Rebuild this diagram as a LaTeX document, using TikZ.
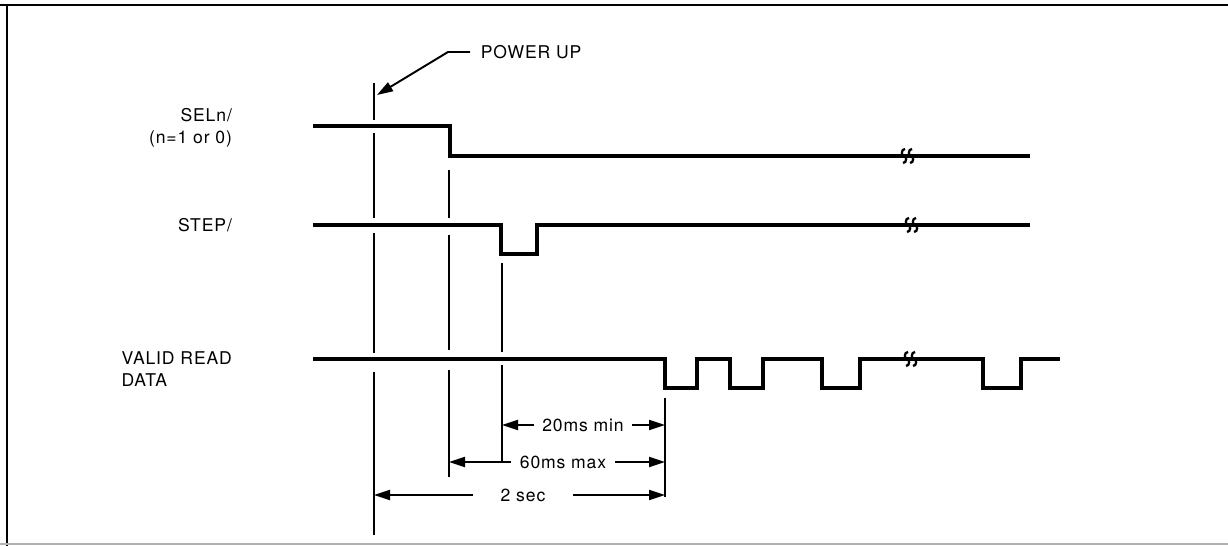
\documentclass[tikz,border=0pt]{standalone}
\usepackage{fontspec}
\setmainfont{TeX Gyre Heros}[LetterSpace=5]
\usetikzlibrary{arrows.meta}

\begin{document}
\begin{tikzpicture}[
  x=0.02cm, y=-0.02cm,
  every node/.style={font=\fontsize{10}{12.5}\selectfont, inner sep=1pt},
  wave/.style={line width=1.8pt, line join=miter},
  marker/.style={line width=1.1pt},
  dimline/.style={line width=1.1pt, -{Triangle[length=3.2mm, width=2mm]}},
  brk/.pic={
    \draw[line width=1.3pt] (1,-7) .. controls (-3,-7) and (-3,0) .. (0,0)
      .. controls (3,0) and (3,7) .. (-1,7);
    \draw[line width=1.3pt] (8,-7) .. controls (4,-7) and (4,0) .. (7,0)
      .. controls (10,0) and (10,7) .. (6,7);
  }
]
  \useasboundingbox (0,0) rectangle (1228,546);
  % frame
  \draw[line width=1.6pt] (0,5) -- (1228,5);
  \draw[line width=1.6pt] (7,5) -- (7,546);
  \draw[gray!60, line width=0.6pt] (0,544) -- (1228,544);

  % signal names
  \node[anchor=east, align=right] (sel) at (234,128) {SELn/\\(n=1 or 0)};
  \node[anchor=east] (step) at (234,225) {STEP/};
  \node[anchor=east, align=left] (vrd) at (234,369) {VALID READ\\DATA};

  % waveforms
  \draw[wave] (313,126) -- (450,126) -- (450,156) -- (1030,156);
  \draw[wave] (313,225) -- (501,225) -- (501,254) -- (537,254) -- (537,225) -- (1030,225);
  \draw[wave] (313,359) -- (665,359)
    \foreach \a/\b in {665/697, 730/763, 822/860, 983/1021} {
      -- (\a,359) -- (\a,388) -- (\b,388) -- (\b,359)
    } -- (1060,359);
  \pic at (904,156) {brk};
  \pic at (908,225) {brk};
  \pic at (907,359) {brk};

  % timing markers
  \foreach \y/\z in {83/120, 133/218, 233/353, 372/535}
    \draw[marker] (374,\y) -- (374,\z);
  \foreach \y/\z in {170/218, 235/350, 370/477}
    \draw[marker] (449,\y) -- (449,\z);
  \foreach \y/\z in {263/352, 365/463}
    \draw[marker] (502,\y) -- (502,\z);
  \draw[marker] (665,398) -- (665,497);

  % power up callout
  \node[anchor=west, inner xsep=6pt] (pwr) at (470,52) {POWER UP};
  \coordinate (knee) at (448,52);
  \coordinate (pwrtip) at (377,95);
  \draw[marker, -{Triangle[length=3.2mm, width=2mm]}] (pwr.west) -- (knee) -- (pwrtip);

  % intervals
  \coordinate (a20) at (502,425);
  \coordinate (b20) at (665,425);
  \node[minimum width=1.94cm] (t20) at (583,425) {20ms min};
  \draw[dimline] (t20.west) -- (a20);
  \draw[dimline] (t20.east) -- (b20);

  \coordinate (a60) at (449,462);
  \coordinate (b60) at (665,462);
  \node[minimum width=2.06cm] (t60) at (563,462) {60ms max};
  \draw[dimline] (t60.west) -- (a60);
  \draw[dimline] (t60.east) -- (b60);

  \coordinate (a2s) at (374,495);
  \coordinate (b2s) at (665,495);
  \node[minimum width=2.0cm] (t2s) at (523,495) {2 sec};
  \draw[dimline] (t2s.west) -- (a2s);
  \draw[dimline] (t2s.east) -- (b2s);
\end{tikzpicture}
\end{document}
